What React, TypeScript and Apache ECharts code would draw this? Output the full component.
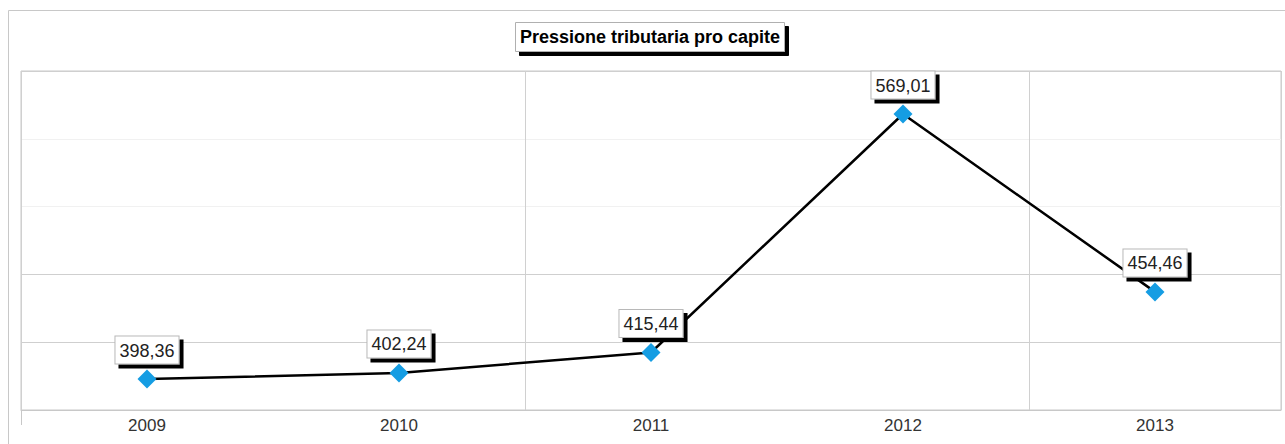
import React, { useEffect, useRef } from "react";
import * as echarts from "echarts";

const years = ["2009", "2010", "2011", "2012", "2013"];
const values = [398.36, 402.24, 415.44, 569.01, 454.46];
const titleText = "Pressione tributaria pro capite";

const FONT = "'Liberation Sans', Arial, Helvetica, sans-serif";

export default function App() {
  const ref = useRef<HTMLDivElement>(null);
  useEffect(() => {
    if (!ref.current) return;
    const chart = echarts.init(ref.current, undefined, { renderer: "svg" });
    chart.setOption({
      animation: false,
      backgroundColor: "#ffffff",
      textStyle: { fontFamily: FONT },
      title: {
        text: titleText,
        left: 515,
        top: 22,
        padding: [5, 5, 5, 5],
        backgroundColor: "#ffffff",
        borderColor: "#b0b0b0",
        borderWidth: 1,
        shadowColor: "#000000",
        shadowBlur: 0,
        shadowOffsetX: 4,
        shadowOffsetY: 4,
        textStyle: {
          fontFamily: FONT,
          fontSize: 18,
          fontWeight: "bold",
          color: "#000000",
          lineHeight: 20,
        },
      },
      graphic: [
        {
          type: "rect",
          silent: true,
          z: -10,
          shape: { x: 8.5, y: 10.5, width: 1300, height: 500 },
          style: { fill: "none", stroke: "#c8c8c8", lineWidth: 1 },
        },
        {
          type: "line",
          silent: true,
          shape: { x1: 21.5, y1: 410, x2: 21.5, y2: 425 },
          style: { stroke: "#c8c8c8", lineWidth: 1 },
        },
      ],
      grid: {
        left: 21,
        right: 4,
        top: 71,
        bottom: 34,
        show: true,
        borderColor: "#c8c8c8",
        borderWidth: 1,
        backgroundColor: "transparent",
      },
      xAxis: {
        type: "category",
        data: years,
        boundaryGap: true,
        axisLine: { show: true, lineStyle: { color: "#c8c8c8", width: 1 } },
        axisTick: { show: false },
        axisLabel: { color: "#333333", fontSize: 17, margin: 7, fontFamily: FONT },
        splitLine: {
          show: true,
          interval: 1,
          lineStyle: { color: "#d0d0d0", width: 1 },
        },
      },
      yAxis: {
        type: "value",
        min: 378.4,
        max: 596.7,
        interval: 43.66,
        axisLine: { show: false },
        axisTick: { show: false },
        axisLabel: { show: false },
        splitLine: {
          show: true,
          lineStyle: {
            color: ["#cfcfcf", "#cfcfcf", "#cfcfcf", "#f1f1f1", "#f1f1f1", "#cfcfcf"],
            width: 1,
          },
        },
      },
      series: [
        {
          type: "line",
          data: values,
          symbol: "diamond",
          symbolSize: 19,
          lineStyle: { color: "#000000", width: 2.5 },
          itemStyle: { color: "#159de3" },
          label: {
            show: true,
            position: "top",
            distance: 6,
            formatter: (p: any) => Number(p.value).toFixed(2).replace(".", ","),
            fontFamily: FONT,
            fontSize: 18,
            color: "#222222",
            backgroundColor: "#ffffff",
            borderColor: "#b8b8b8",
            borderWidth: 1,
            padding: [5, 4, 4, 4],
            shadowColor: "#000000",
            shadowBlur: 0,
            shadowOffsetX: 4,
            shadowOffsetY: 4,
          },
        },
      ],
    });
    return () => chart.dispose();
  }, []);
  return (
    <div
      ref={ref}
      style={{ position: "absolute", left: 0, top: 0, width: 1285, height: 444 }}
    />
  );
}
